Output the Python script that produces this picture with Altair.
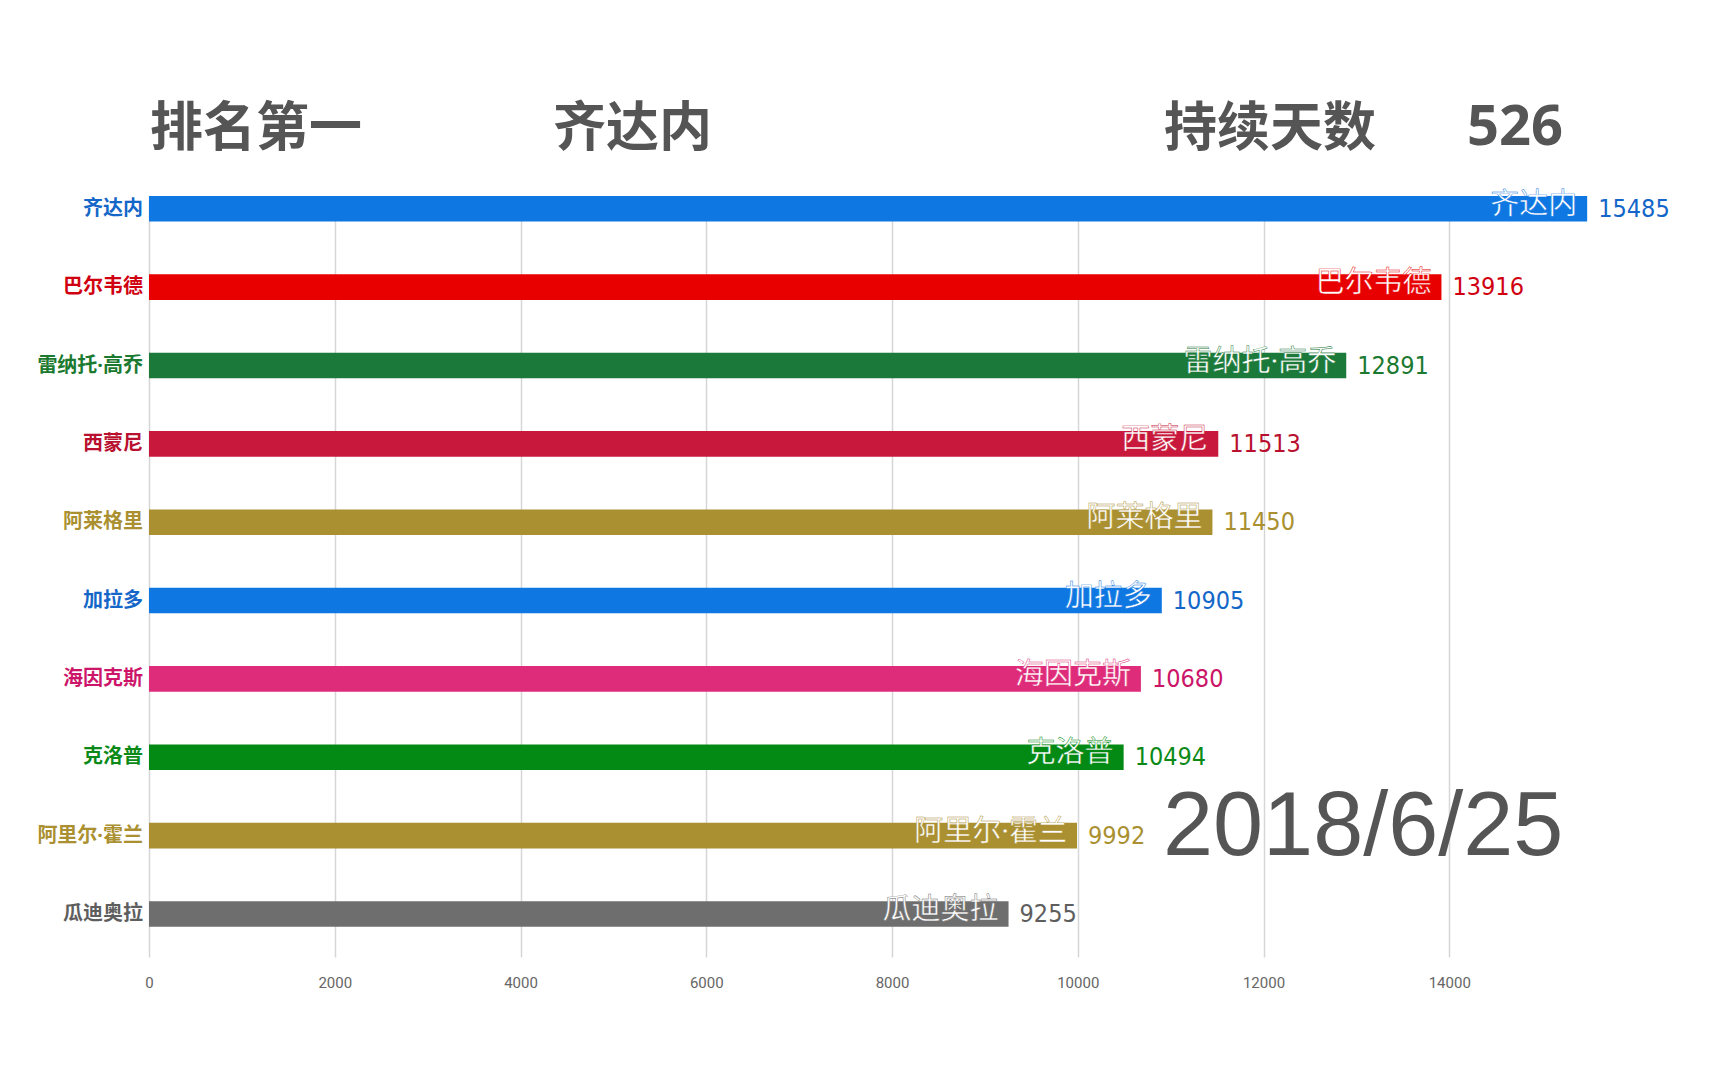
import altair as alt
import pandas as pd

names = ["齐达内", "巴尔韦德", "雷纳托·高乔", "西蒙尼", "阿莱格里",
         "加拉多", "海因克斯", "克洛普", "阿里尔·霍兰", "瓜迪奥拉"]
values = [15485, 13916, 12891, 11513, 11450, 10905, 10680, 10494, 9992, 9255]
bar_colors = ["#0E77E2", "#E80000", "#1B7A3A", "#C8183C", "#AA9030",
              "#0E77E2", "#DE2C7A", "#028A14", "#AA9030", "#6E6E6E"]
label_colors = ["#1467C8", "#D00010", "#1B7A30", "#B8102E", "#AA9030",
                "#1467C8", "#CC1468", "#0C8A18", "#AA9030", "#5E5E5E"]
x_ticks = [0, 2000, 4000, 6000, 8000, 10000, 12000, 14000]

rank_label = "排名第一"
leader = names[0]
days_label = "持续天数"
days = "526"
date_label = "2018/6/25"

CJK = "Noto Sans CJK SC"
MIX = "Noto Sans, Noto Sans CJK SC"
NUM = "Liberation Sans Narrow, DejaVu Sans Condensed, Roboto"
GREY = "#555555"

df = pd.DataFrame({"name": names, "value": values,
                   "bar_color": bar_colors, "label_color": label_colors})

y_enc = alt.Y("name:N", sort=names,
              scale=alt.Scale(paddingInner=0.673, paddingOuter=0.193, align=0, round=False),
              axis=None)
x_enc = alt.X("value:Q",
              scale=alt.Scale(domain=[0, 16000], nice=False, zero=True),
              axis=alt.Axis(values=x_ticks, grid=True, gridColor="#d6d6d6", gridWidth=1.5,
                            domain=False, ticks=False, labelFontSize=15, labelColor="#666666",
                            labelFont="Roboto", labelPadding=18, labelFlush=False,
                            title=None, format="d"))

base = alt.Chart(df)

bars = base.mark_bar().encode(
    x=x_enc, y=y_enc, color=alt.Color("bar_color:N", scale=None))

inner = base.mark_text(align="right", baseline="middle", dx=-10, dy=-4,
                       fill="white", strokeWidth=0.45, font=MIX, fontSize=29).encode(
    x="value:Q", y=alt.Y("name:N", sort=names), text="name:N",
    stroke=alt.Stroke("bar_color:N", scale=None))

vals = base.mark_text(align="left", baseline="middle", dx=11, font=NUM, fontSize=25).encode(
    x="value:Q", y=alt.Y("name:N", sort=names), text="value:Q",
    color=alt.Color("label_color:N", scale=None))

ylabels = base.mark_text(align="right", baseline="middle", dx=-6, font=MIX,
                         fontWeight="bold", fontSize=20).encode(
    x=alt.value(0), y=alt.Y("name:N", sort=names), text="name:N",
    color=alt.Color("label_color:N", scale=None))


def header(txt, xpos, ypos, size, weight="bold", font=CJK):
    return alt.Chart(pd.DataFrame({"t": [txt]})).mark_text(
        align="left", baseline="middle", font=font, fontSize=size,
        fontWeight=weight, color=GREY).encode(
        text="t:N", x=alt.value(xpos), y=alt.value(ypos))


h1 = header(rank_label, 1, -66, 53)
h2 = header(leader, 404, -66, 53)
h3 = header(days_label, 1015, -66, 53)
h4 = header(days, 1318, -68, 56, font="Open Sans")
h5 = header(date_label, 1014, 632, 90, weight="normal", font="Liberation Sans")

chart = alt.layer(bars, inner, vals, ylabels, h1, h2, h3, h4, h5).properties(
    width=1486, height=761,
    autosize=alt.AutoSizeParams(type="none"),
    padding={"left": 141, "top": 188, "right": 70, "bottom": 70},
    background="white",
).configure_view(stroke=None)

chart.save("out.html", embed_options={"renderer": "svg", "actions": False})
